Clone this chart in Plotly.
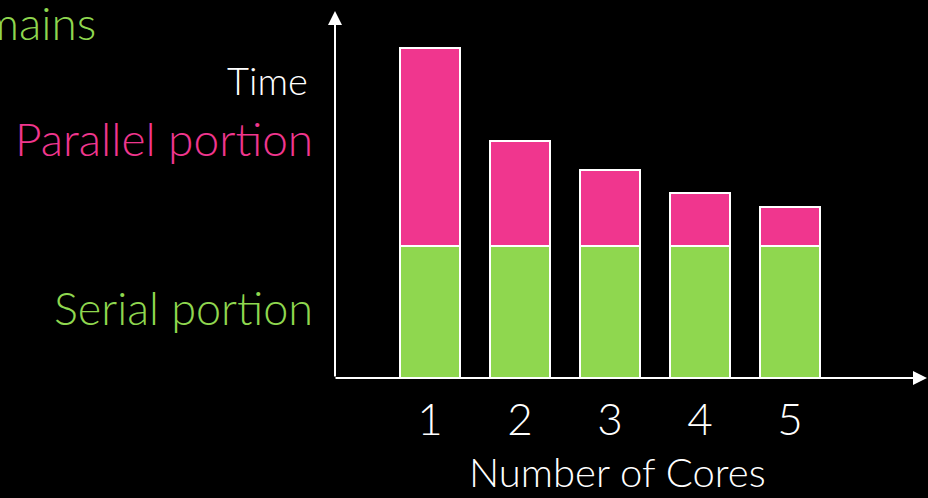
import plotly.graph_objects as go

cores = [1, 2, 3, 4, 5]
core_labels = ["1", "2", "3", "4", "5"]
serial = [2.0, 2.0, 2.0, 2.0, 2.0]
parallel = [3.0, 1.59, 1.15, 0.8, 0.59]

GREEN = "#8FD74F"
PINK = "#F0368E"
FONT = "Lato"
WT = 300

W, H = 928, 498
L, R, T, B = 335, 0, 0, 120
PW, PH = W - L - R, H - T - B


def px(x):
    return (x - L) / PW


def py(y):
    return (H - B - y) / PH


fig = go.Figure()
fig.add_trace(go.Bar(x=cores, y=serial, width=0.667, marker=dict(color=GREEN, line=dict(color="white", width=2.5)), name="Serial portion"))
fig.add_trace(go.Bar(x=cores, y=parallel, width=0.667, marker=dict(color=PINK, line=dict(color="white", width=2.5)), name="Parallel portion"))

ann = []
# axes arrows
ann.append(dict(xref="paper", yref="paper", axref="pixel", ayref="pixel", x=0, y=py(11), ax=0, ay=(H - B) - 11,
                text="", showarrow=True, arrowhead=2, arrowsize=1.4, arrowwidth=2, arrowcolor="white", standoff=0, startstandoff=0))
ann.append(dict(xref="paper", yref="paper", axref="pixel", ayref="pixel", x=px(927), y=0, ax=-(927 - 334), ay=0,
                text="", showarrow=True, arrowhead=2, arrowsize=1.4, arrowwidth=2, arrowcolor="white", standoff=0, startstandoff=0))
# labels
ann.append(dict(xref="paper", yref="paper", x=px(310), y=py(80), xanchor="right", yanchor="middle", text="Time",
                showarrow=False, font=dict(family=FONT, size=38, color="white", weight=WT)))
ann.append(dict(xref="paper", yref="paper", x=px(315), y=py(138), xanchor="right", yanchor="middle", text="Parallel portion",
                showarrow=False, font=dict(family=FONT, size=46, color=PINK, weight=WT)))
ann.append(dict(xref="paper", yref="paper", x=px(315), y=py(308), xanchor="right", yanchor="middle", text="Serial portion",
                showarrow=False, font=dict(family=FONT, size=45, color=GREEN, weight=WT)))
ann.append(dict(xref="paper", yref="paper", x=px(617), y=py(472), xanchor="center", yanchor="middle", text="Number of Cores",
                showarrow=False, font=dict(family=FONT, size=40, color="white", weight=WT)))
ann.append(dict(xref="paper", yref="paper", x=px(98), y=py(22), xanchor="right", yanchor="middle", text="remains",
                showarrow=False, font=dict(family=FONT, size=46, color=GREEN, weight=WT)))

fig.update_layout(
    width=W, height=H,
    margin=dict(l=L, r=R, t=T, b=B),
    paper_bgcolor="black", plot_bgcolor="black",
    barmode="stack", bargap=0,
    showlegend=False,
    annotations=ann,
    xaxis=dict(range=[1 - 95 / 90, 1 + 498 / 90], tickvals=cores, ticktext=core_labels,
               tickfont=dict(family=FONT, size=44, color="white", weight=WT), ticks="outside", ticklen=3, tickcolor="rgba(0,0,0,0)",
               showgrid=False, zeroline=False, showline=False, fixedrange=True),
    yaxis=dict(range=[0, 378 / 66], visible=False, showgrid=False, zeroline=False, fixedrange=True),
)

fig.write_html("out.html")
